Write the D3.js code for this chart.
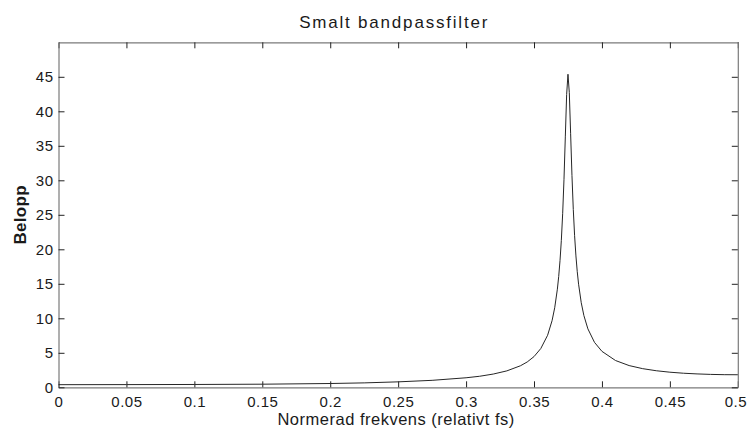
<!DOCTYPE html>
<html>
<head>
<meta charset="utf-8">
<script src="https://cdn.jsdelivr.net/npm/d3@7/dist/d3.min.js"></script>
<style>
  html, body { margin: 0; padding: 0; background: #fff; }
  svg { display: block; }
  text { font-family: "Liberation Sans", Arial, Helvetica, sans-serif; fill: #1a1a1a; }
</style>
</head>
<body>
<svg id="chart" width="747" height="428"></svg>
<script>
// ---- data ----
const frequency = [
  0, 0.05, 0.1, 0.15, 0.2, 0.225, 0.25, 0.275, 0.3, 0.31, 0.32, 0.33, 0.34, 0.345, 0.35, 0.355, 0.36,
  0.363281, 0.365234, 0.367188, 0.368164, 0.369141, 0.370117, 0.371094, 0.372070, 0.373047, 0.374023,
  0.375,
  0.375977, 0.376953, 0.377930, 0.378906, 0.379883, 0.380859, 0.381836, 0.382813, 0.384766, 0.386719,
  0.389648, 0.394531, 0.4, 0.41, 0.42, 0.43, 0.44, 0.45, 0.46, 0.47, 0.48, 0.49, 0.5
];
const magnitude = [
  0.38, 0.39, 0.41, 0.45, 0.55, 0.64, 0.79, 1.01, 1.38, 1.6, 1.92, 2.38, 3.12, 3.67, 4.45, 5.62, 7.54,
  9.65, 11.53, 14.22, 16.05, 18.35, 21.30, 25.15, 30.15, 36.29, 42.44,
  45.37,
  42.70, 36.74, 30.71, 25.78, 21.97, 19.04, 16.75, 14.94, 12.26, 10.39,
  8.47, 6.51, 5.21, 3.88, 3.15, 2.70, 2.40, 2.19, 2.04, 1.94, 1.87, 1.83, 1.82
];
const xTicks = [0, 0.05, 0.1, 0.15, 0.2, 0.25, 0.3, 0.35, 0.4, 0.45, 0.5];
const xTickLabels = ["0", "0.05", "0.1", "0.15", "0.2", "0.25", "0.3", "0.35", "0.4", "0.45", "0.5"];
const yTicks = [0, 5, 10, 15, 20, 25, 30, 35, 40, 45];
const yTickLabels = ["0", "5", "10", "15", "20", "25", "30", "35", "40", "45"];
const titleText = "Smalt bandpassfilter";
const xLabelText = "Normerad frekvens (relativt fs)";
const yLabelText = "Belopp";

// ---- layout ----
const plot = { left: 58.5, right: 737.8, top: 42.3, bottom: 387.3 };
const svg = d3.select("#chart");

const x = d3.scaleLinear().domain([0, 0.5]).range([plot.left, plot.right]);
const y = d3.scaleLinear().domain([0, 50]).range([plot.bottom, plot.top]);

const boxColor = "#7a7a7a";
const tickColor = "#222";
const tickLen = 6;

function styleAxis(g) {
  g.select(".domain").attr("stroke", boxColor).attr("stroke-width", 1.2);
  g.selectAll(".tick line").attr("stroke", tickColor).attr("stroke-width", 1);
  g.selectAll(".tick text")
    .style("font-family", '"Liberation Sans", Arial, Helvetica, sans-serif')
    .style("font-size", "15px")
    .style("letter-spacing", "0.5px")
    .attr("fill", "#2a2a2a");
}

// bottom axis
const bottomAxis = svg.append("g")
  .attr("transform", `translate(0,${plot.bottom})`)
  .call(d3.axisBottom(x).tickValues(xTicks)
        .tickFormat((d, i) => xTickLabels[i])
        .tickSizeInner(-tickLen).tickSizeOuter(0).tickPadding(9))
  .call(styleAxis);
// keep the last label inside the picture, as in the reference
bottomAxis.selectAll(".tick text").filter(d => d === 0.5).attr("dx", -2.5);

// top axis (ticks only)
svg.append("g")
  .attr("transform", `translate(0,${plot.top})`)
  .call(d3.axisTop(x).tickValues(xTicks).tickFormat("")
        .tickSizeInner(-tickLen).tickSizeOuter(0))
  .call(styleAxis);

// left axis
svg.append("g")
  .attr("transform", `translate(${plot.left},0)`)
  .call(d3.axisLeft(y).tickValues(yTicks)
        .tickFormat((d, i) => yTickLabels[i])
        .tickSizeInner(-tickLen).tickSizeOuter(0).tickPadding(5))
  .call(styleAxis);

// right axis (ticks only)
svg.append("g")
  .attr("transform", `translate(${plot.right},0)`)
  .call(d3.axisRight(y).tickValues(yTicks).tickFormat("")
        .tickSizeInner(-tickLen).tickSizeOuter(0))
  .call(styleAxis);

// curve
const pts = frequency.map((f, i) => [f, magnitude[i]]);
svg.append("path")
  .datum(pts)
  .attr("fill", "none")
  .attr("stroke", "#262626")
  .attr("stroke-width", 1)
  .attr("d", d3.line().x(d => x(d[0])).y(d => y(d[1])));

// title
svg.append("text")
  .attr("x", (plot.left + plot.right) / 2 - 4)
  .attr("y", 27.5)
  .attr("text-anchor", "middle")
  .style("font-size", "17px")
  .style("letter-spacing", "1.8px")
  .text(titleText);

// x label
svg.append("text")
  .attr("x", (plot.left + plot.right) / 2 - 2)
  .attr("y", 425)
  .attr("text-anchor", "middle")
  .style("font-size", "16.5px")
  .style("letter-spacing", "0.5px")
  .text(xLabelText);

// y label
svg.append("text")
  .attr("transform", `translate(26,${(plot.top + plot.bottom) / 2}) rotate(-90)`)
  .attr("text-anchor", "middle")
  .style("font-size", "17px")
  .style("font-weight", "bold")
  .style("letter-spacing", "0.3px")
  .text(yLabelText);
</script>
</body>
</html>
